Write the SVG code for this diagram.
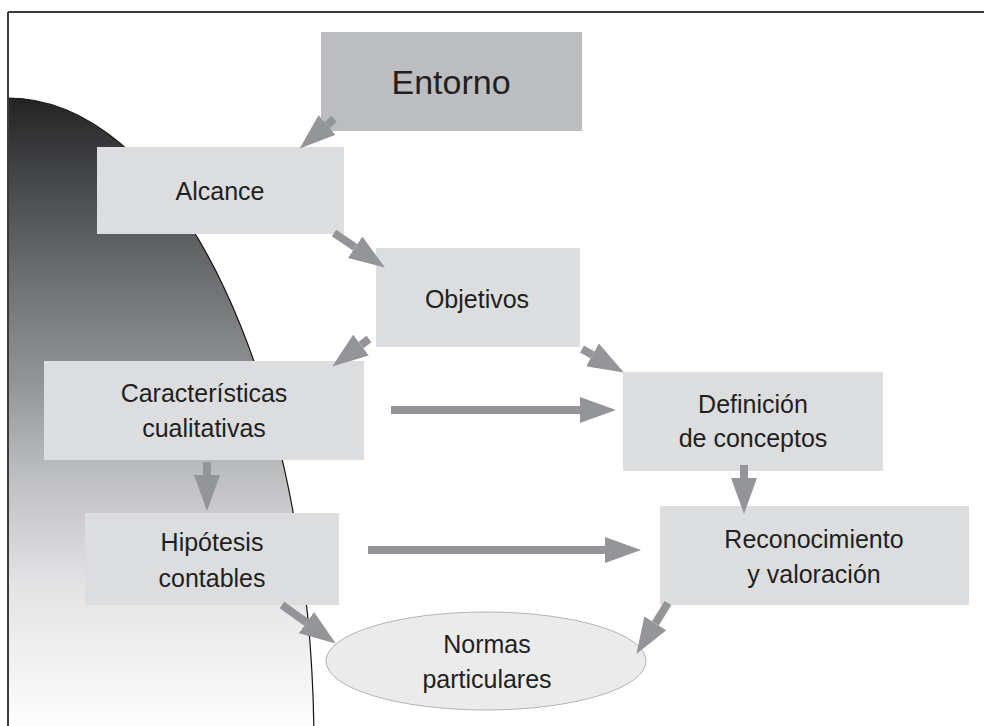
<svg xmlns="http://www.w3.org/2000/svg" width="984" height="726" viewBox="0 0 984 726">
<defs>
<linearGradient id="shade" gradientUnits="userSpaceOnUse" x1="0" y1="98" x2="0" y2="726">
<stop offset="0" stop-color="#232323"/>
<stop offset="0.1" stop-color="#3e3f41"/>
<stop offset="0.3" stop-color="#717275"/>
<stop offset="0.45" stop-color="#929396"/>
<stop offset="0.6" stop-color="#bdbec0"/>
<stop offset="0.78" stop-color="#e4e4e6"/>
<stop offset="1" stop-color="#fdfdfd"/>
</linearGradient>
<marker id="ah" markerUnits="userSpaceOnUse" markerWidth="36" markerHeight="26" viewBox="0 0 36 26" refX="0" refY="13" orient="auto">
<path d="M0,0 L36,13 L0,26 z" fill="#939598"/>
</marker>
<clipPath id="frameclip"><rect x="8" y="12" width="976" height="714"/></clipPath>
</defs>
<style>
.box{fill:#dcdddf;}
.top{fill:#bcbdc0;}
.t{font-family:"Liberation Sans",Arial,sans-serif;font-size:25px;fill:#231f20;text-anchor:middle;}
.conn line{stroke:#939598;stroke-width:8;marker-end:url(#ah);}
</style>
<rect x="0" y="0" width="984" height="726" fill="#ffffff"/>
<g id="background">
<ellipse cx="8" cy="748" rx="306" ry="650" fill="url(#shade)" stroke="#111" stroke-width="1.2" clip-path="url(#frameclip)"/>
<line x1="8" y1="12" x2="984" y2="12" stroke="#3a3a3a" stroke-width="2"/>
<line x1="8" y1="12" x2="8" y2="726" stroke="#3a3a3a" stroke-width="2"/>
</g>
<g id="entorno">
<rect class="top" x="321" y="32" width="261" height="99"/>
<text class="t" x="451" y="94" style="font-size:34px">Entorno</text>
</g>
<g id="alcance">
<rect class="box" x="97" y="147" width="247" height="87"/>
<text class="t" x="220" y="200">Alcance</text>
</g>
<g id="objetivos">
<rect class="box" x="376" y="248" width="204" height="99"/>
<text class="t" x="477" y="308">Objetivos</text>
</g>
<g id="caracteristicas">
<rect class="box" x="44" y="361" width="320" height="99"/>
<text class="t" x="204" y="402">Características</text>
<text class="t" x="204" y="437">cualitativas</text>
</g>
<g id="definicion">
<rect class="box" x="623" y="372" width="260" height="99"/>
<text class="t" x="753" y="413">Definición</text>
<text class="t" x="753" y="447">de conceptos</text>
</g>
<g id="hipotesis">
<rect class="box" x="85" y="513" width="254" height="92"/>
<text class="t" x="212" y="551">Hipótesis</text>
<text class="t" x="212" y="587">contables</text>
</g>
<g id="reconocimiento">
<rect class="box" x="660" y="506" width="309" height="99"/>
<text class="t" x="814" y="548">Reconocimiento</text>
<text class="t" x="814" y="583">y valoración</text>
</g>
<g id="normas">
<ellipse cx="486" cy="661" rx="160" ry="49" fill="#ebebec" stroke="#b3b3b5" stroke-width="1"/>
<text class="t" x="487" y="653">Normas</text>
<text class="t" x="487" y="688">particulares</text>
</g>
<g id="connectors" class="conn">
<line x1="334" y1="119" x2="327" y2="125"/>
<line x1="334" y1="233" x2="355.1" y2="247.3"/>
<line x1="369" y1="339" x2="361" y2="345"/>
<line x1="582" y1="349" x2="592.5" y2="354.9"/>
<line x1="391" y1="410" x2="580" y2="410"/>
<line x1="368" y1="550" x2="605" y2="550"/>
<line x1="207" y1="462" x2="207" y2="475"/>
<line x1="744" y1="465" x2="744" y2="478"/>
<line x1="282" y1="605" x2="306.5" y2="622.6"/>
<line x1="668" y1="603" x2="655.4" y2="623.3"/>
</g>
</svg>
